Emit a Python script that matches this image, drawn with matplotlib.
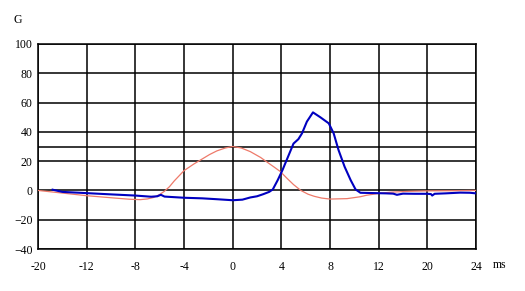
import matplotlib

matplotlib.use("Agg")
import matplotlib.pyplot as plt

# x axis grid positions (ms, evenly spaced) and the labels printed under them
x_ticks = [-16, -12, -8, -4, 0, 4, 8, 12, 16, 20]
x_labels = ["-20", "-12", "-8", "-4", "0", "4", "8", "12", "20", "24"]
y_ticks = [-40, -20, 0, 20, 40, 60, 80, 100]
extra_hlines = [30]

# measured trace (blue)
meas_t = [-14.8, -14.0, -12.1, -10.0, -8.0, -6.7, -6.2, -5.9, -5.6, -4.0, -2.5,
          -1.3, 0.0, 0.8, 1.45, 2.0, 2.5, 3.0, 3.3, 3.7, 4.1, 4.6, 5.0, 5.4,
          5.7, 6.1, 6.6, 7.2, 7.9, 8.3, 8.7, 9.2, 9.7, 10.1, 10.5, 11.5, 12.6,
          13.2, 13.5, 14.0, 15.0, 16.0, 16.3, 16.4, 16.6, 17.5, 18.7, 19.5, 20.0]
meas_v = [0.5, -1.0, -1.8, -2.7, -3.5, -4.3, -4.0, -3.0, -4.2, -5.0, -5.4,
          -6.0, -6.7, -6.3, -4.8, -4.0, -2.6, -1.0, 0.7, 7.0, 14.0, 24.0, 32.0,
          35.0, 39.0, 47.0, 53.3, 50.0, 45.8, 39.0, 27.6, 16.2, 7.0, 0.7, -1.6,
          -1.8, -2.0, -2.2, -3.0, -2.2, -2.3, -2.3, -2.5, -3.5, -2.3, -2.0, -1.5,
          -1.6, -2.0]

# model / reference pulse (red)
ref_t = [-16.0, -14.0, -12.0, -10.0, -8.5, -7.6, -7.0, -6.5, -6.0, -5.6, -5.2,
         -4.8, -4.0, -3.2, -2.6, -1.9, -1.3, -0.6, 0.0, 0.7, 1.45, 2.3, 2.8,
         3.4, 3.9, 4.5, 5.0, 5.6, 6.2, 6.7, 7.3, 8.0, 9.4, 10.5, 11.0, 12.2,
         13.0, 14.5, 16.0, 18.0, 20.0]
ref_v = [0.0, -1.8, -3.6, -5.0, -6.0, -6.3, -5.8, -4.8, -2.8, -0.5, 2.5,
         6.5, 13.5, 18.0, 21.0, 24.5, 27.0, 29.0, 30.0, 29.0, 26.5, 22.5, 19.5,
         16.0, 13.0, 8.0, 4.0, 0.0, -2.6, -4.0, -5.2, -5.9, -5.6, -4.3, -3.3,
         -1.8, -1.2, -0.6, -0.3, -0.2, 0.0]

fig = plt.figure(figsize=(5.25, 2.91), dpi=100)
ax = fig.add_axes([38 / 525, 1 - 249 / 291, 438 / 525, 205 / 291])

for yv in extra_hlines:
    ax.axhline(yv, color="black", lw=1.1, zorder=1)

ax.plot(ref_t, ref_v, color="#ee7a6a", lw=0.9, zorder=3)
ax.plot(meas_t, meas_v, color="#0000c0", lw=1.5, zorder=4)

ax.set_xlim(x_ticks[0], x_ticks[-1])
ax.set_ylim(-40, 100)
ax.set_xticks(x_ticks)
ax.set_xticklabels(x_labels)
ax.set_yticks(y_ticks)
ax.grid(True, color="black", lw=1.1, zorder=1)
ax.set_axisbelow(True)
for sp in ax.spines.values():
    sp.set_linewidth(1.1)
    sp.set_color("black")
ax.tick_params(length=0, labelsize=8.5, pad=4)
ax.tick_params(axis="x", pad=9)
for lab in ax.get_xticklabels() + ax.get_yticklabels():
    lab.set_family("Liberation Serif")

fig.text(18 / 525, 1 - 20 / 291, "G", family="Liberation Serif", fontsize=8.5,
         ha="center", va="center")
fig.text(500 / 525, 1 - 265 / 291, "ms", family="Liberation Serif", fontsize=8.5,
         ha="center", va="center")

fig.savefig("out.png", dpi=100, facecolor="white")
